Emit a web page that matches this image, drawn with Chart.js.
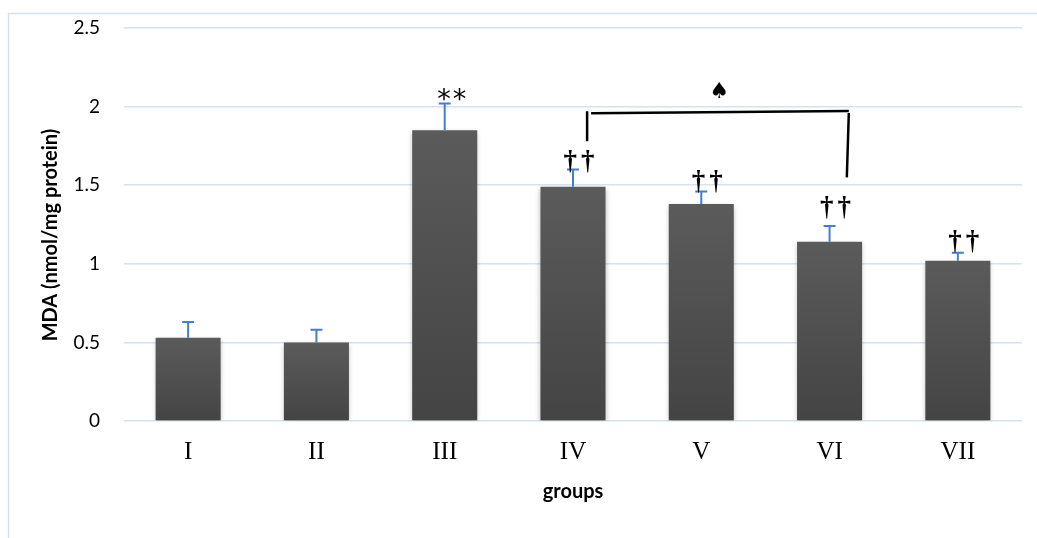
<!DOCTYPE html>
<html>
<head>
<meta charset="utf-8">
<script src="https://cdn.jsdelivr.net/npm/chart.js@4/dist/chart.umd.min.js"></script>
<style>
  html, body { margin: 0; padding: 0; background: #fff; }
  #wrap { width: 1037px; height: 538px; }
</style>
</head>
<body>
<div id="wrap"><canvas id="c" width="1037" height="538"></canvas></div>
<script>
// ---- data ----
const categories = ['I', 'II', 'III', 'IV', 'V', 'VI', 'VII'];
const mdaValues  = [0.53, 0.50, 1.85, 1.49, 1.38, 1.14, 1.02];
const mdaErrors  = [0.10, 0.08, 0.17, 0.11, 0.08, 0.10, 0.05];
const yTicks     = [0, 0.5, 1, 1.5, 2, 2.5];
// significance marks (text and the value level of their centre)
const markText   = ['', '', '**', '\u2020\u2020', '\u2020\u2020', '\u2020\u2020', '\u2020\u2020'];
const markLevel  = [null, null, 2.07, 1.65, 1.52, 1.355, 1.14];
// bracket between groups IV and VI (category index positions, value levels)
const bracketIdx     = [3.11, 5.15];
const bracketTop     = [1.957, 1.972];
const bracketEnds    = [1.78, 1.55];
const bracketSymbol  = '\u2660';
const bracketSymIdx  = 4.14;
const bracketSymLvl  = 2.09;

const yTitle = 'MDA (nmol/mg protein)';
const xTitle = 'groups';

const framePlugin = {
  id: 'frame',
  beforeDraw(chart) {
    const ctx = chart.ctx;
    ctx.save();
    ctx.strokeStyle = '#d5e1f1';
    ctx.lineWidth = 1.5;
    ctx.strokeRect(8.5, 13.5, 1100, 700);
    ctx.restore();
  }
};

const shadowPlugin = {
  id: 'barShadow',
  beforeDatasetsDraw(chart) {
    const ctx = chart.ctx;
    ctx.save();
    ctx.shadowColor = 'rgba(0,0,0,0.28)';
    ctx.shadowBlur = 5;
    ctx.shadowOffsetX = 0;
    ctx.shadowOffsetY = 2;
  },
  afterDatasetsDraw(chart) {
    chart.ctx.restore();
  }
};

const annoPlugin = {
  id: 'annotations',
  afterDatasetsDraw(chart) {
    const ctx = chart.ctx;
    const xs = chart.scales.x, ys = chart.scales.y;
    const meta = chart.getDatasetMeta(0);
    ctx.save();
    // error bars (upper only)
    ctx.strokeStyle = '#3f7fd2';
    ctx.lineWidth = 2;
    meta.data.forEach((bar, i) => {
      const x = bar.x;
      const y0 = ys.getPixelForValue(mdaValues[i]);
      const y1 = ys.getPixelForValue(mdaValues[i] + mdaErrors[i]);
      ctx.beginPath();
      ctx.moveTo(x, y0);
      ctx.lineTo(x, y1);
      ctx.moveTo(x - 6, y1);
      ctx.lineTo(x + 6, y1);
      ctx.stroke();
    });
    // significance marks
    ctx.fillStyle = '#000';
    ctx.textAlign = 'center';
    ctx.textBaseline = 'middle';
    markText.forEach((t, i) => {
      if (!t) return;
      const isStar = t === '**';
      ctx.font = isStar ? '27px "DejaVu Sans"' : 'bold 27px "Liberation Serif"';
      ctx.letterSpacing = isStar ? '2px' : '4px';
      const dy = isStar ? 5 : 0;
      ctx.fillText(t, xs.getPixelForValue(i) + 8, ys.getPixelForValue(markLevel[i]) + dy);
    });
    ctx.letterSpacing = '0px';
    // bracket
    ctx.strokeStyle = '#000';
    ctx.lineWidth = 2.5;
    const xl = xs.getPixelForValue(bracketIdx[0]);
    const xr = xs.getPixelForValue(bracketIdx[1]);
    ctx.beginPath();
    ctx.moveTo(xl, ys.getPixelForValue(bracketTop[0]) - 2);
    ctx.lineTo(xl, ys.getPixelForValue(bracketEnds[0]));
    ctx.moveTo(xl + 4, ys.getPixelForValue(bracketTop[0]));
    ctx.lineTo(xr, ys.getPixelForValue(bracketTop[1]));
    ctx.moveTo(xr, ys.getPixelForValue(bracketTop[1]) + 2);
    ctx.lineTo(xr - 2, ys.getPixelForValue(bracketEnds[1]));
    ctx.stroke();
    ctx.font = '22px "DejaVu Sans"';
    ctx.fillText(bracketSymbol, xs.getPixelForValue(bracketSymIdx), ys.getPixelForValue(bracketSymLvl));
    // y axis title
    ctx.save();
    ctx.translate(57, 235);
    ctx.rotate(-Math.PI / 2);
    ctx.font = 'bold 20px Lato';
    ctx.textBaseline = 'alphabetic';
    ctx.fillText(yTitle, 0, 0);
    ctx.restore();
    ctx.restore();
  }
};

new Chart(document.getElementById('c'), {
  type: 'bar',
  data: {
    labels: categories,
    datasets: [{
      data: mdaValues,
      backgroundColor: (context) => {
        const chart = context.chart;
        const ys = chart.scales.y;
        if (!ys || !chart.chartArea || context.dataIndex === undefined) return '#505050';
        const top = ys.getPixelForValue(mdaValues[context.dataIndex]);
        const bottom = ys.getPixelForValue(0);
        if (!isFinite(top) || !isFinite(bottom)) return '#505050';
        const g = chart.ctx.createLinearGradient(0, top, 0, bottom);
        g.addColorStop(0, '#5b5b5b');
        g.addColorStop(1, '#444444');
        return g;
      },
      borderWidth: 0,
      categoryPercentage: 1.0,
      barPercentage: 0.507
    }]
  },
  options: {
    responsive: false,
    animation: false,
    devicePixelRatio: 1,
    layout: { padding: { left: 10, right: 15, top: 28, bottom: 0 } },
    plugins: { legend: { display: false }, tooltip: { enabled: false } },
    scales: {
      y: {
        min: 0, max: 2.5,
        afterFit(scale) { scale.width = 114; scale.paddingTop = 0; scale.paddingBottom = 0; },
        afterBuildTicks(scale) { scale.ticks = yTicks.map(v => ({ value: v })); },
        ticks: {
          font: { family: 'Lato', size: 19 }, color: '#000', padding: 24,
          callback: (v) => String(v)
        },
        grid: { color: '#d6e2f1', lineWidth: 1.5, drawTicks: false },
        border: { display: false }
      },
      x: {
        afterFit(scale) { scale.height = 117; },
        ticks: { font: { family: '"Liberation Serif"', size: 25 }, color: '#000', padding: 16 },
        grid: { display: false, drawTicks: false },
        border: { display: false },
        title: {
          display: true, text: xTitle, color: '#000',
          font: { family: 'Lato', size: 20, weight: 'bold' },
          padding: { top: 0, bottom: 34 }
        }
      }
    }
  },
  plugins: [framePlugin, shadowPlugin, annoPlugin]
});
</script>
</body>
</html>
